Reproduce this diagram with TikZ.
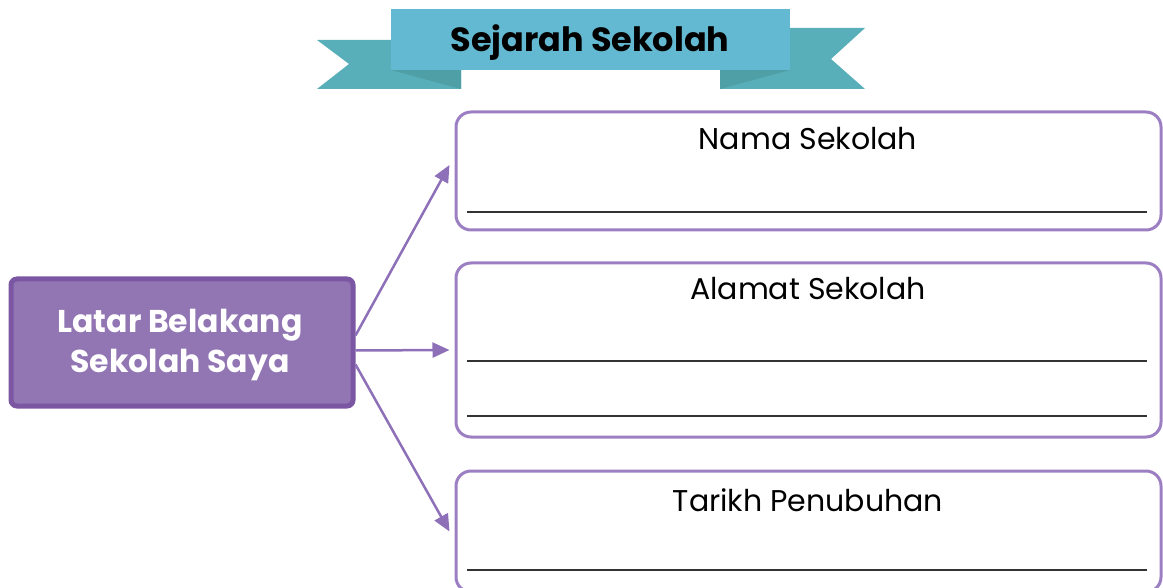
\documentclass[tikz,border=0pt]{standalone}
\usepackage{fontspec}
\setmainfont{Poppins}
\usetikzlibrary{calc,arrows.meta}
\definecolor{ribbon}{HTML}{63B9D1}
\definecolor{tail}{HTML}{58AEB9}
\definecolor{fold}{HTML}{4F9FA6}
\definecolor{mainfill}{HTML}{9276B4}
\definecolor{mainborder}{HTML}{7A56A3}
\definecolor{boxborder}{HTML}{9C7FC2}
\definecolor{arrowc}{HTML}{8E70B8}
\definecolor{rule}{HTML}{333333}
\tikzset{
  infobox/.style={draw=boxborder, line width=3pt, rounded corners=15pt, fill=white, anchor=north west, inner sep=0pt},
  mainbox/.style={draw=mainborder, line width=5pt, fill=mainfill, rounded corners=6pt, anchor=north west, inner sep=0pt, minimum width=342pt, minimum height=127pt},
  conn/.style={draw=arrowc, line width=2.5pt, -{Triangle[length=17pt,width=15pt]}},
  writeline/.style={draw=rule, line width=1.5pt},
  boxtitle/.style={anchor=base, font=\fontsize{30}{36}\selectfont, inner sep=0pt},
  maintext/.style={text=white, align=center, font=\bfseries\fontsize{31.5}{40}\selectfont, inner sep=0pt},
}
\begin{document}
\begin{tikzpicture}[x=1pt,y=-1pt]
\useasboundingbox (0,0) rectangle (1163,588);
\clip (0,0) rectangle (1163,588);
% ribbon
\fill[tail] (317,40) -- (391,40) -- (391,70) -- (461,70) -- (461,89) -- (317,89) -- (349,64) -- cycle;
\fill[tail] (865,28) -- (790,28) -- (790,70) -- (720,70) -- (720,89) -- (865,89) -- (831,59) -- cycle;
\fill[fold] (391,70) -- (461,70) -- (461,89) -- cycle;
\fill[fold] (790,70) -- (720,70) -- (720,89) -- cycle;
\node[fill=ribbon, anchor=north west, minimum width=399pt, minimum height=61pt, inner sep=0pt] (banner) at (391,9) {};
\node[anchor=base, font=\bfseries\fontsize{33.5}{40}\selectfont, inner sep=0pt] (title) at (590,52) {Sejarah Sekolah};
% main box
\node[mainbox] (main) at (8.5,276.5) {};
\node[maintext] (maintxt) at (180,345) {Latar Belakang\\Sekolah Saya};
% info boxes
\node[infobox, minimum width=705pt, minimum height=118pt] (b1) at (454.5,110.5) {};
\node[infobox, minimum width=705pt, minimum height=174pt] (b2) at (454.5,261.5) {};
\node[infobox, minimum width=705pt, minimum height=121pt] (b3) at (454.5,469.5) {};
\node[boxtitle] (t1) at (808,150) {Nama Sekolah};
\node[boxtitle] (t2) at (808,300) {Alamat Sekolah};
\node[boxtitle] (t3) at (808,511) {Tarikh Penubuhan};
% writing lines
\coordinate (l1a) at (467,212); \coordinate (l1b) at (1147,212);
\coordinate (l2a) at (467,361); \coordinate (l2b) at (1147,361);
\coordinate (l3a) at (467,416); \coordinate (l3b) at (1147,416);
\coordinate (l4a) at (467,570); \coordinate (l4b) at (1147,570);
\draw[writeline] (l1a) -- (l1b);
\draw[writeline] (l2a) -- (l2b);
\draw[writeline] (l3a) -- (l3b);
\draw[writeline] (l4a) -- (l4b);
% connectors
\draw[conn] ($(main.east)+(0,-7)$) -- ($(b1.west)+(-5,-6)$);
\draw[conn] ($(main.east)+(0,8)$) -- ($(b2.west)+(-5,0)$);
\draw[conn] ($(main.east)+(0,22)$) -- ($(b3.west)+(-5,0)$);
\end{tikzpicture}
\end{document}
